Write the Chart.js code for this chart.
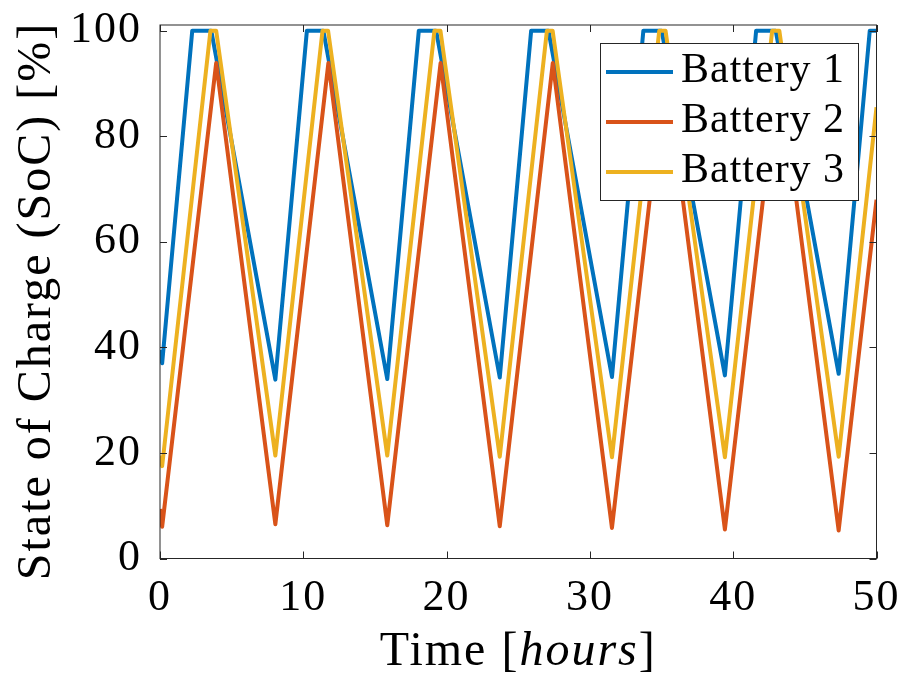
<!DOCTYPE html>
<html>
<head>
<meta charset="utf-8">
<script src="https://cdn.jsdelivr.net/npm/chart.js@4/dist/chart.umd.min.js"></script>
<style>
  html, body { margin: 0; padding: 0; background: #fff; }
  #wrap { width: 903px; height: 684px; }
</style>
</head>
<body>
<div id="wrap"><canvas id="soc" width="903" height="684"></canvas></div>
<script>
// tick labels
const xTicks = [0, 10, 20, 30, 40, 50];
const yTicks = [0, 20, 40, 60, 80, 100];

const seriesNames = ['Battery 1', 'Battery 2', 'Battery 3'];
const seriesColors = ['#0072BD', '#D95319', '#EDB120'];

// vertices (hours, %)
const timeB1 = [0, 0.15, 2.25, 3.58, 8.05, 10.25, 11.40, 15.86, 18.06, 19.27, 23.71, 25.90, 27.11, 31.54, 33.73, 35.01, 39.42, 41.60, 42.97, 47.36, 49.53, 50];
const socB1 = [39.5, 37.0, 100, 100, 33.9, 100, 100, 34.0, 100, 100, 34.3, 100, 100, 34.4, 100, 100, 34.7, 100, 100, 35.0, 100, 100];

const timeB2 = [0, 0.15, 3.92, 8.05, 11.75, 15.86, 19.58, 23.71, 27.41, 31.54, 35.27, 39.42, 43.18, 47.36, 50];
const socB2 = [9.4, 6.0, 93.9, 6.5, 93.9, 6.3, 93.9, 6.1, 93.9, 5.8, 93.9, 5.5, 93.9, 5.3, 68.0];

const timeB3 = [0, 0.15, 3.52, 3.92, 8.05, 11.34, 11.73, 15.86, 19.15, 19.57, 23.71, 27.00, 27.40, 31.54, 34.84, 35.28, 39.42, 42.72, 43.22, 47.36, 50];
const socB3 = [19.5, 17.5, 100, 100, 19.5, 100, 100, 19.5, 100, 100, 19.3, 100, 100, 19.2, 100, 100, 19.2, 100, 100, 19.3, 85.5];

const xTitle = ['Time [', 'hours', ']'];
const yTitle = 'State of Charge (SoC) [%]';

const serif = '"Liberation Serif", "DejaVu Serif", serif';
const ink = '#262626';

const toPoints = (t, v) => t.map((x, i) => ({ x: x, y: v[i] }));

const times = [timeB1, timeB2, timeB3];
const socs = [socB1, socB2, socB3];

const datasets = seriesNames.map((name, i) => ({
    label: name,
    data: toPoints(times[i], socs[i]),
    borderColor: seriesColors[i],
    borderWidth: 4,
    pointRadius: 0,
    tension: 0,
    fill: false,
    borderJoinStyle: 'round',
    order: 2 - i
}));

// no label overhang, the box is placed by hand
const noOverhang = s => {
    s.paddingTop = 0;
    s.paddingBottom = 0;
    s.paddingLeft = 0;
    s.paddingRight = 0;
};

// box, inward ticks, legend and axis titles
const frame = {
    id: 'frame',
    beforeDraw(chart) {
        chart.ctx.letterSpacing = '2px';
    },
    afterDatasetsDraw(chart) {
        const { ctx, chartArea: a, scales: { x, y } } = chart;
        ctx.save();
        ctx.strokeStyle = ink;
        ctx.lineWidth = 1;
        ctx.strokeRect(a.left, a.top, a.right - a.left, a.bottom - a.top);
        ctx.beginPath();
        const tl = 7;
        xTicks.forEach(v => {
            const px = Math.round(x.getPixelForValue(v)) + 0.5;
            ctx.moveTo(px, a.bottom); ctx.lineTo(px, a.bottom - tl);
            ctx.moveTo(px, a.top); ctx.lineTo(px, a.top + tl);
        });
        yTicks.forEach(v => {
            const py = Math.round(y.getPixelForValue(v)) + 0.5;
            ctx.moveTo(a.left, py); ctx.lineTo(a.left + tl, py);
            ctx.moveTo(a.right, py); ctx.lineTo(a.right - tl, py);
        });
        ctx.stroke();

        // legend
        const lx = 600, ly = 43, lw = 258, lh = 157;
        ctx.fillStyle = '#fff';
        ctx.fillRect(lx, ly, lw, lh);
        ctx.strokeRect(lx + 0.5, ly + 0.5, lw, lh);
        ctx.font = '42px ' + serif;
        ctx.letterSpacing = '1px';
        ctx.textAlign = 'left';
        ctx.textBaseline = 'alphabetic';
        chart.data.datasets.forEach((ds, i) => {
            const ry = 72 + i * 50;
            ctx.strokeStyle = ds.borderColor;
            ctx.lineWidth = 4;
            ctx.beginPath();
            ctx.moveTo(606, ry); ctx.lineTo(673, ry);
            ctx.stroke();
            ctx.fillStyle = '#000';
            ctx.fillText(ds.label, 681, ry + 10);
        });

        // axis titles
        ctx.fillStyle = '#000';
        ctx.letterSpacing = '2px';
        const fonts = ['48px ' + serif, 'italic 48px ' + serif, '48px ' + serif];
        let total = 0;
        const widths = xTitle.map((s, i) => {
            ctx.font = fonts[i];
            const w = ctx.measureText(s).width;
            total += w;
            return w;
        });
        let cx = (a.left + a.right) / 2 - total / 2;
        xTitle.forEach((s, i) => {
            ctx.font = fonts[i];
            ctx.fillText(s, cx, 665);
            cx += widths[i];
        });

        ctx.translate(50, 301);
        ctx.rotate(-Math.PI / 2);
        ctx.font = fonts[0];
        ctx.textAlign = 'center';
        ctx.fillText(yTitle, 0, 0);
        ctx.restore();
    }
};

new Chart(document.getElementById('soc'), {
    type: 'line',
    data: { datasets: datasets },
    options: {
        responsive: false,
        animation: false,
        devicePixelRatio: 1,
        layout: { padding: { top: 25, right: 26.5, left: 0, bottom: 0 } },
        plugins: {
            legend: { display: false },
            tooltip: { enabled: false }
        },
        scales: {
            x: {
                type: 'linear',
                min: 0,
                max: 50,
                grid: { display: false },
                border: { display: false },
                afterBuildTicks: s => { s.ticks = xTicks.map(v => ({ value: v })); },
                afterFit: s => { s.height = 125.5; noOverhang(s); },
                ticks: {
                    color: '#000',
                    padding: 6,
                    maxRotation: 0,
                    font: { family: serif, size: 44 }
                }
            },
            y: {
                type: 'linear',
                min: 0,
                max: 101.1,
                grid: { display: false },
                border: { display: false },
                afterBuildTicks: s => { s.ticks = yTicks.map(v => ({ value: v })); },
                afterFit: s => { s.width = 160; noOverhang(s); },
                ticks: {
                    color: '#000',
                    padding: 10,
                    font: { family: serif, size: 44 }
                }
            }
        }
    },
    plugins: [frame]
});
</script>
</body>
</html>
